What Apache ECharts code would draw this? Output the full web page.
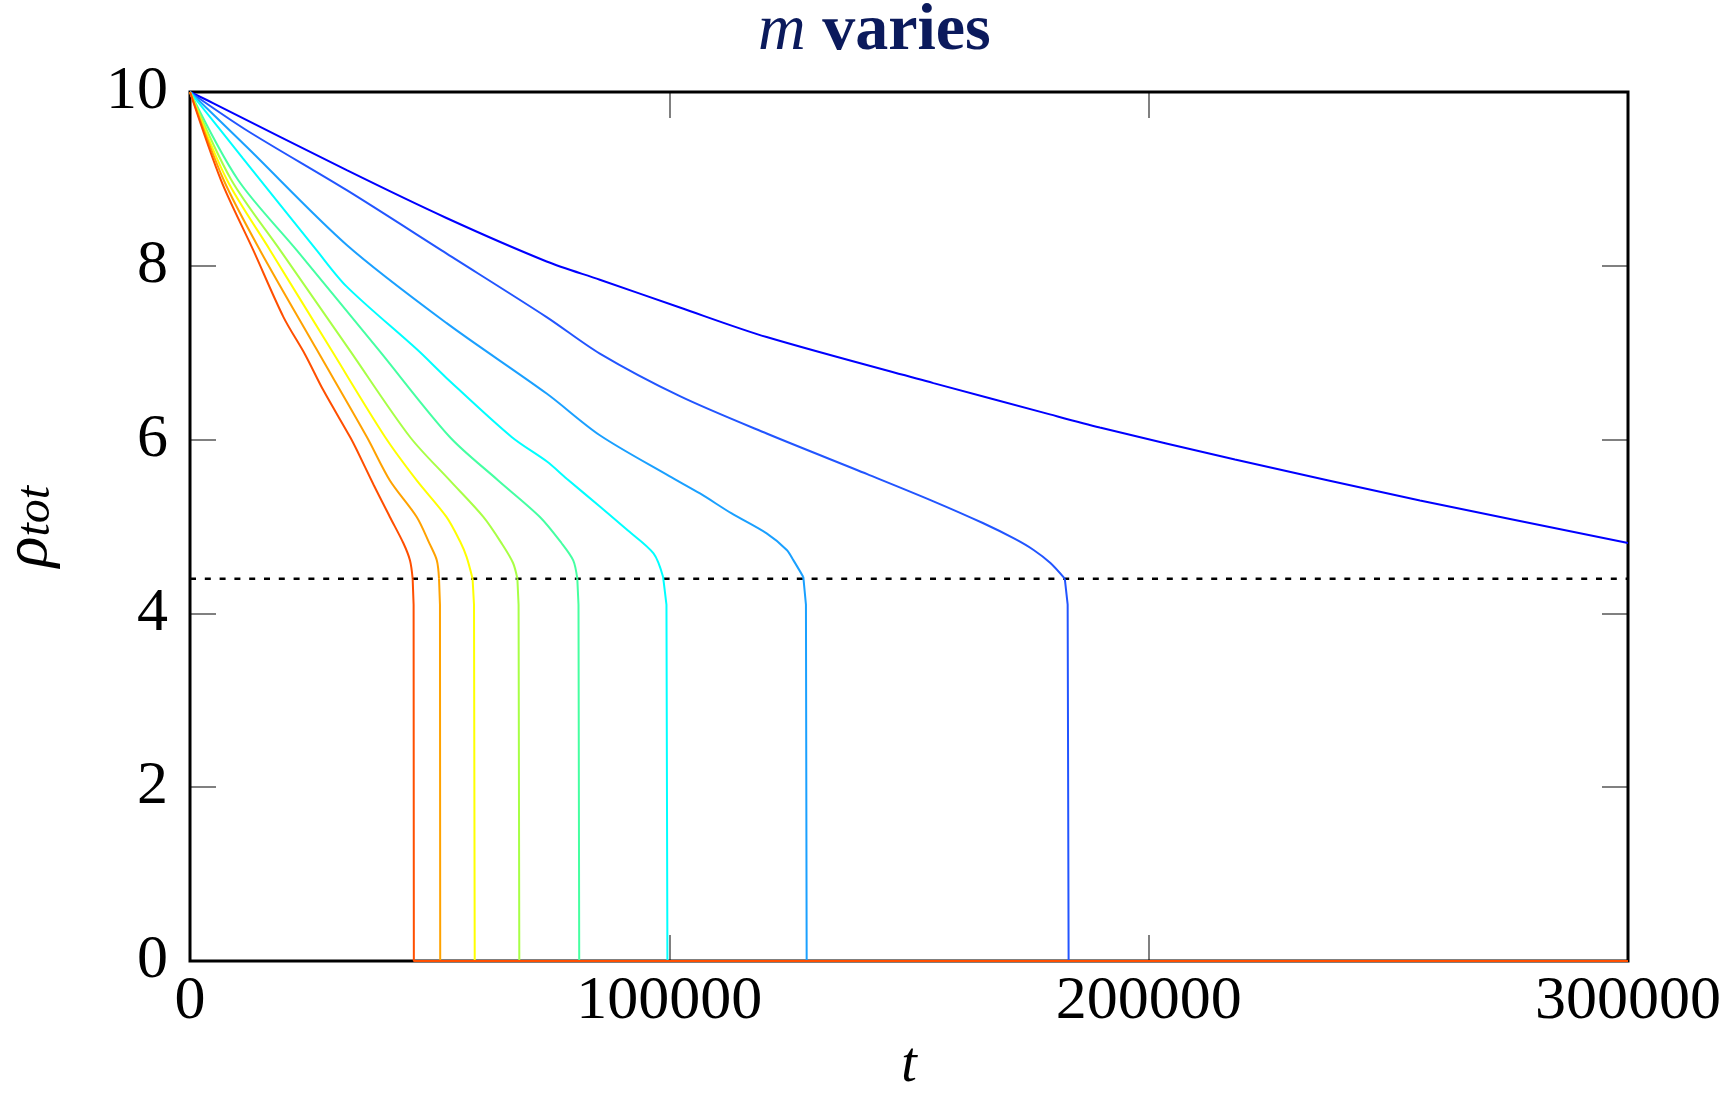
<!DOCTYPE html>
<html>
<head>
<meta charset="utf-8">
<script src="https://cdn.jsdelivr.net/npm/echarts@6/dist/echarts.min.js"></script>
<style>
html,body{margin:0;padding:0;background:#fff;}
#chart{width:1730px;height:1112px;}
</style>
</head>
<body>
<div id="chart"></div>
<script>
// ---- data (t, rho_tot) ----
const curveRed = [[0,10],[6500,8.98],[13200,8.18],[19500,7.41],[24000,6.98],[27800,6.57],[33400,6.03],[34800,5.88],[38300,5.48],[41700,5.11],[44500,4.81],[45900,4.61],[46450,4.40],[46650,4.1],[46700,0],[300000,0]];
const curveOrange = [[0,10],[7000,8.99],[14600,8.18],[26500,7.03],[36900,6.03],[41700,5.53],[47300,5.11],[50000,4.80],[51500,4.61],[51950,4.40],[52150,4.1],[52200,0],[300000,0]];
const curveYellow = [[0,10],[7700,8.99],[16700,8.18],[29500,7.03],[40700,6.03],[47300,5.53],[53500,5.11],[56500,4.81],[57700,4.65],[58950,4.40],[59250,4.1],[59400,0],[300000,0]];
const curveYellowGreen = [[0,10],[8600,8.99],[18800,8.18],[33300,7.03],[45900,6.03],[54200,5.53],[61200,5.11],[65200,4.79],[67400,4.58],[68300,4.40],[68550,4.1],[68700,0],[300000,0]];
const curveGreen = [[0,10],[10000,8.99],[22250,8.18],[39400,7.03],[54200,6.03],[64300,5.53],[73000,5.11],[77500,4.81],[79950,4.61],[80800,4.40],[81050,4.1],[81200,0],[300000,0]];
const curveCyan = [[0,10],[11000,9.24],[26400,8.18],[32700,7.76],[47500,7.03],[53500,6.71],[67100,6.03],[74400,5.75],[78600,5.55],[85500,5.23],[91000,4.97],[96700,4.69],[98700,4.42],[99400,4.1],[99600,0],[300000,0]];
const curveLightBlue = [[0,10],[11800,9.37],[32700,8.24],[53550,7.34],[74400,6.53],[85500,6.05],[100000,5.58],[106400,5.38],[113000,5.15],[120300,4.92],[124500,4.73],[125900,4.61],[127950,4.42],[128500,4.1],[128650,0],[300000,0]];
const curveMidBlue = [[0,10],[11800,9.56],[32700,8.87],[53550,8.14],[74400,7.41],[85500,6.99],[102200,6.50],[120300,6.07],[141400,5.60],[155100,5.29],[165400,5.04],[172000,4.86],[176000,4.73],[179500,4.58],[182500,4.40],[183100,4.1],[183300,0],[300000,0]];
const curveBlue = [[0,10],[4900,9.87],[32700,9.10],[53500,8.55],[74400,8.05],[85500,7.84],[102200,7.52],[120300,7.18],[155100,6.65],[179400,6.29],[189800,6.14],[218000,5.77],[256600,5.30],[300000,4.81]];
const thresholdLine = [[0,4.4],[300000,4.4]];
const kneeLevel = 4.4;

const xRange = [0, 300000];
const xStep = 100000;
const yRange = [0, 10];
const yStep = 2;
const titleParts = ['m', 'varies'];
const xName = 't';
const yNameParts = ['ρ', 'tot'];

// drawing order: blue first, red last (on top)
const curves = [curveBlue, curveMidBlue, curveLightBlue, curveCyan, curveGreen, curveYellowGreen, curveYellow, curveOrange, curveRed];
const colors = ['#0000ff', '#2255ff', '#1aa0ff', '#00ffff', '#45ffa2', '#a8ff45', '#ffff00', '#ffa200', '#ff4f00'];

const FONT = 'Liberation Serif';
const chart = echarts.init(document.getElementById('chart'), null, {renderer: 'canvas'});

function tickStyle() {
  return {show: true, inside: true, length: 26, lineStyle: {color: '#808080', width: 2}};
}

const series = [{
  type: 'line', data: thresholdLine, showSymbol: false, silent: true, clip: false,
  lineStyle: {color: '#000', width: 2.5, type: [6, 8.8]}, z: 2
}];
curves.forEach((c, i) => {
  // smooth decay part down to the knee, then straight drop and zero tail
  let k = c.length - 1;
  for (let j = 0; j < c.length; j++) { if (c[j][1] < kneeLevel - 1e-9) { k = j - 1; break; } }
  const decay = c.slice(0, k + 1);
  const tail = c.slice(k);
  series.push({
    type: 'line', data: decay, showSymbol: false, silent: true, clip: false,
    smooth: 0.3, lineStyle: {color: colors[i], width: 2}, z: 3
  });
  if (tail.length > 1) {
    series.push({
      type: 'line', data: tail, showSymbol: false, silent: true, clip: false,
      lineStyle: {color: colors[i], width: 2}, z: 3
    });
  }
});

const noLine = () => ({show: false, onZero: false});

chart.setOption({
  animation: false,
  backgroundColor: '#fff',
  title: {
    text: '{m|' + titleParts[0] + '} {v|' + titleParts[1] + '}',
    left: 758, top: -1, padding: 0,
    textStyle: {
      fontFamily: FONT, fontSize: 66, fontWeight: 'bold', color: '#0b1a5c',
      rich: {
        m: {fontFamily: FONT, fontStyle: 'italic', fontWeight: 'normal', fontSize: 66, color: '#0b1a5c'},
        v: {fontFamily: FONT, fontWeight: 'bold', fontSize: 66, color: '#0b1a5c'}
      }
    }
  },
  grid: {left: 190, right: 102, top: 92, bottom: 151, containLabel: false, outerBoundsMode: 'none',
         show: true, borderColor: '#000', borderWidth: 3, backgroundColor: 'transparent', z: 1},
  xAxis: [{
    type: 'value', min: xRange[0], max: xRange[1], interval: xStep, position: 'bottom', z: 0,
    axisLine: noLine(), splitLine: {show: false}, axisTick: tickStyle(),
    axisLabel: {fontFamily: FONT, fontSize: 62, color: '#000', margin: 10, formatter: v => String(v)},
    name: xName, nameLocation: 'middle', nameGap: 76,
    nameTextStyle: {fontFamily: FONT, fontStyle: 'italic', fontSize: 56, color: '#000'}
  }, {
    type: 'value', min: xRange[0], max: xRange[1], interval: xStep, position: 'top', z: 0,
    axisLine: noLine(), splitLine: {show: false}, axisTick: tickStyle(), axisLabel: {show: false}
  }],
  yAxis: [{
    type: 'value', min: yRange[0], max: yRange[1], interval: yStep, position: 'left', z: 0,
    axisLine: noLine(), splitLine: {show: false}, axisTick: tickStyle(),
    axisLabel: {fontFamily: FONT, fontSize: 62, color: '#000', margin: 22, formatter: v => String(v)},
    name: '{r|' + yNameParts[0] + '}{s|' + yNameParts[1] + '}', nameLocation: 'middle', nameGap: 130, nameRotate: 90,
    nameTextStyle: {
      color: '#000',
      rich: {
        r: {fontFamily: FONT, fontStyle: 'italic', fontSize: 64, lineHeight: 62, color: '#000'},
        s: {fontFamily: FONT, fontStyle: 'italic', fontSize: 48, lineHeight: 28, verticalAlign: 'bottom', color: '#000'}
      }
    }
  }, {
    type: 'value', min: yRange[0], max: yRange[1], interval: yStep, position: 'right', z: 0,
    axisLine: noLine(), splitLine: {show: false}, axisTick: tickStyle(), axisLabel: {show: false}
  }],
  series: series
});
</script>
</body>
</html>
